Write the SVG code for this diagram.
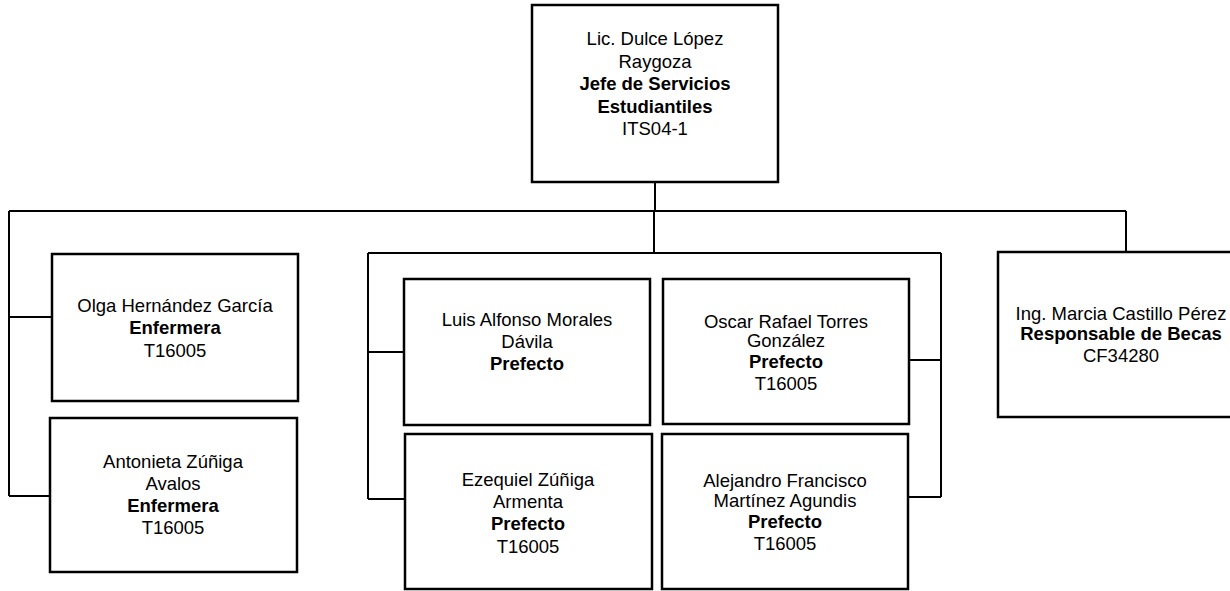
<svg xmlns="http://www.w3.org/2000/svg" width="1230" height="591" viewBox="0 0 1230 591">
<style>
.box{fill:#fff;stroke:#000;stroke-width:2.5}
.ln{fill:none;stroke:#000;stroke-width:2}
text{font-family:"Liberation Sans",Arial,sans-serif;font-size:18.5px;fill:#000;text-anchor:middle}
.b{font-weight:bold}
</style>
<rect width="1230" height="591" fill="#fff"/>
<g id="connectors">
<path class="ln" d="M655,182 V211 M9,211 H1126 M1126,211 V252"/>
<path class="ln" d="M9,211 V496 M9,317 H52 M9,496 H50"/>
<path class="ln" d="M654,211 V253 M368,253 H941 M368,253 V499 M368,352 H404 M368,499 H405"/>
<path class="ln" d="M941,253 V497 M909,360 H941 M908,497 H941"/>
</g>
<g id="jefe">
<rect class="box" x="532" y="5" width="246" height="177"/>
<text x="655" y="45">Lic. Dulce López</text>
<text x="655" y="67.5">Raygoza</text>
<text class="b" x="655" y="90">Jefe de Servicios</text>
<text class="b" x="655" y="112.5">Estudiantiles</text>
<text x="655" y="135">ITS04-1</text>
</g>
<g id="olga">
<rect class="box" x="52" y="254" width="246" height="147"/>
<text x="175" y="312">Olga Hernández García</text>
<text class="b" x="175" y="334">Enfermera</text>
<text x="175" y="357">T16005</text>
</g>
<g id="antonieta">
<rect class="box" x="50" y="418" width="247" height="154"/>
<text x="173" y="468">Antonieta Zúñiga</text>
<text x="173" y="490">Avalos</text>
<text class="b" x="173" y="512">Enfermera</text>
<text x="173" y="534">T16005</text>
</g>
<g id="luis">
<rect class="box" x="404" y="279" width="246" height="146"/>
<text x="527" y="326">Luis Alfonso Morales</text>
<text x="527" y="348">Dávila</text>
<text class="b" x="527" y="370">Prefecto</text>
</g>
<g id="oscar">
<rect class="box" x="663" y="279" width="246" height="145"/>
<text x="786" y="328">Oscar Rafael Torres</text>
<text x="786" y="347">González</text>
<text class="b" x="786" y="368">Prefecto</text>
<text x="786" y="390">T16005</text>
</g>
<g id="ezequiel">
<rect class="box" x="405" y="434" width="247" height="155"/>
<text x="528" y="486">Ezequiel Zúñiga</text>
<text x="528" y="508">Armenta</text>
<text class="b" x="528" y="530">Prefecto</text>
<text x="528" y="553">T16005</text>
</g>
<g id="alejandro">
<rect class="box" x="662" y="434" width="246" height="155"/>
<text x="785" y="487">Alejandro Francisco</text>
<text x="785" y="507">Martínez Agundis</text>
<text class="b" x="785" y="528">Prefecto</text>
<text x="785" y="550">T16005</text>
</g>
<g id="marcia">
<rect class="box" x="998" y="252" width="256" height="165"/>
<text x="1121" y="320">Ing. Marcia Castillo Pérez</text>
<text class="b" x="1121" y="340">Responsable de Becas</text>
<text x="1121" y="362">CF34280</text>
</g>
</svg>
